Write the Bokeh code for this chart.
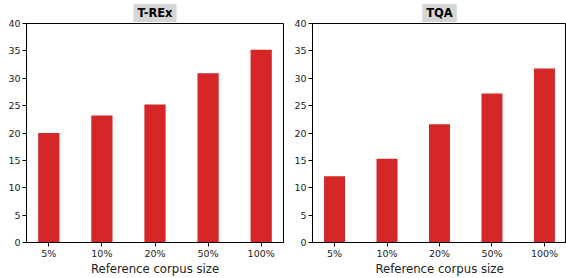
from bokeh.plotting import figure
from bokeh.layouts import row
from bokeh.models import Range1d, FixedTicker
from bokeh.embed import file_html
from bokeh.resources import INLINE

categories = ["5%", "10%", "20%", "50%", "100%"]
trex_values = [20.0, 23.2, 25.2, 30.9, 35.2]
tqa_values = [12.1, 15.3, 21.6, 27.2, 31.8]
y_ticks = [0, 5, 10, 15, 20, 25, 30, 35, 40]
xlabel = "Reference corpus size"
BAR_COLOR = "#d62728"
FONT = "DejaVu Sans"


def make(title, values, width, bl, br):
    p = figure(width=width, height=278, output_backend="svg", toolbar_location=None,
               x_range=Range1d(-0.42, 4.42), y_range=Range1d(0, 40),
               min_border_left=bl, min_border_right=br, min_border_top=22, min_border_bottom=33)
    xs = list(range(len(categories)))
    p.vbar(x=xs, top=values, width=0.4, color=BAR_COLOR, line_color=None)
    p.xgrid.visible = False
    p.ygrid.visible = False
    p.outline_line_color = "black"
    p.outline_line_width = 1
    p.background_fill_color = "white"
    p.border_fill_color = "white"

    p.xaxis.ticker = FixedTicker(ticks=xs)
    p.xaxis.major_label_overrides = {i: c for i, c in enumerate(categories)}
    p.yaxis.ticker = FixedTicker(ticks=y_ticks)
    for ax in (p.xaxis[0], p.yaxis[0]):
        ax.major_tick_out = 4
        ax.major_tick_in = 0
        ax.minor_tick_out = 0
        ax.minor_tick_in = 0
        ax.axis_line_color = "black"
        ax.major_tick_line_color = "black"
        ax.major_label_text_font = FONT
        ax.major_label_text_font_size = "9.5px"
        ax.major_label_text_color = "#222222"
        ax.major_label_standoff = 2
    p.xaxis.major_label_standoff = 1
    p.xaxis.axis_label = xlabel
    p.xaxis.axis_label_text_font = FONT
    p.xaxis.axis_label_text_font_size = "11.7px"
    p.xaxis.axis_label_text_font_style = "normal"
    p.xaxis.axis_label_text_color = "#222222"
    p.xaxis.axis_label_standoff = 0

    p.title.text = title
    p.title.align = "center"
    p.title.text_font = FONT
    p.title.text_font_size = "11.5px"
    p.title.text_font_style = "bold"
    p.title.text_color = "black"
    p.title.background_fill_color = "#d6d6d6"
    p.title.padding = (4, 2)
    p.title.standoff = 3
    return p


p1 = make("T-REx", trex_values, 290, 26, 7)
p2 = make("TQA", tqa_values, 276, 22, 0)
layout = row(p1, p2)

open("out.html", "w").write(file_html(layout, INLINE))
